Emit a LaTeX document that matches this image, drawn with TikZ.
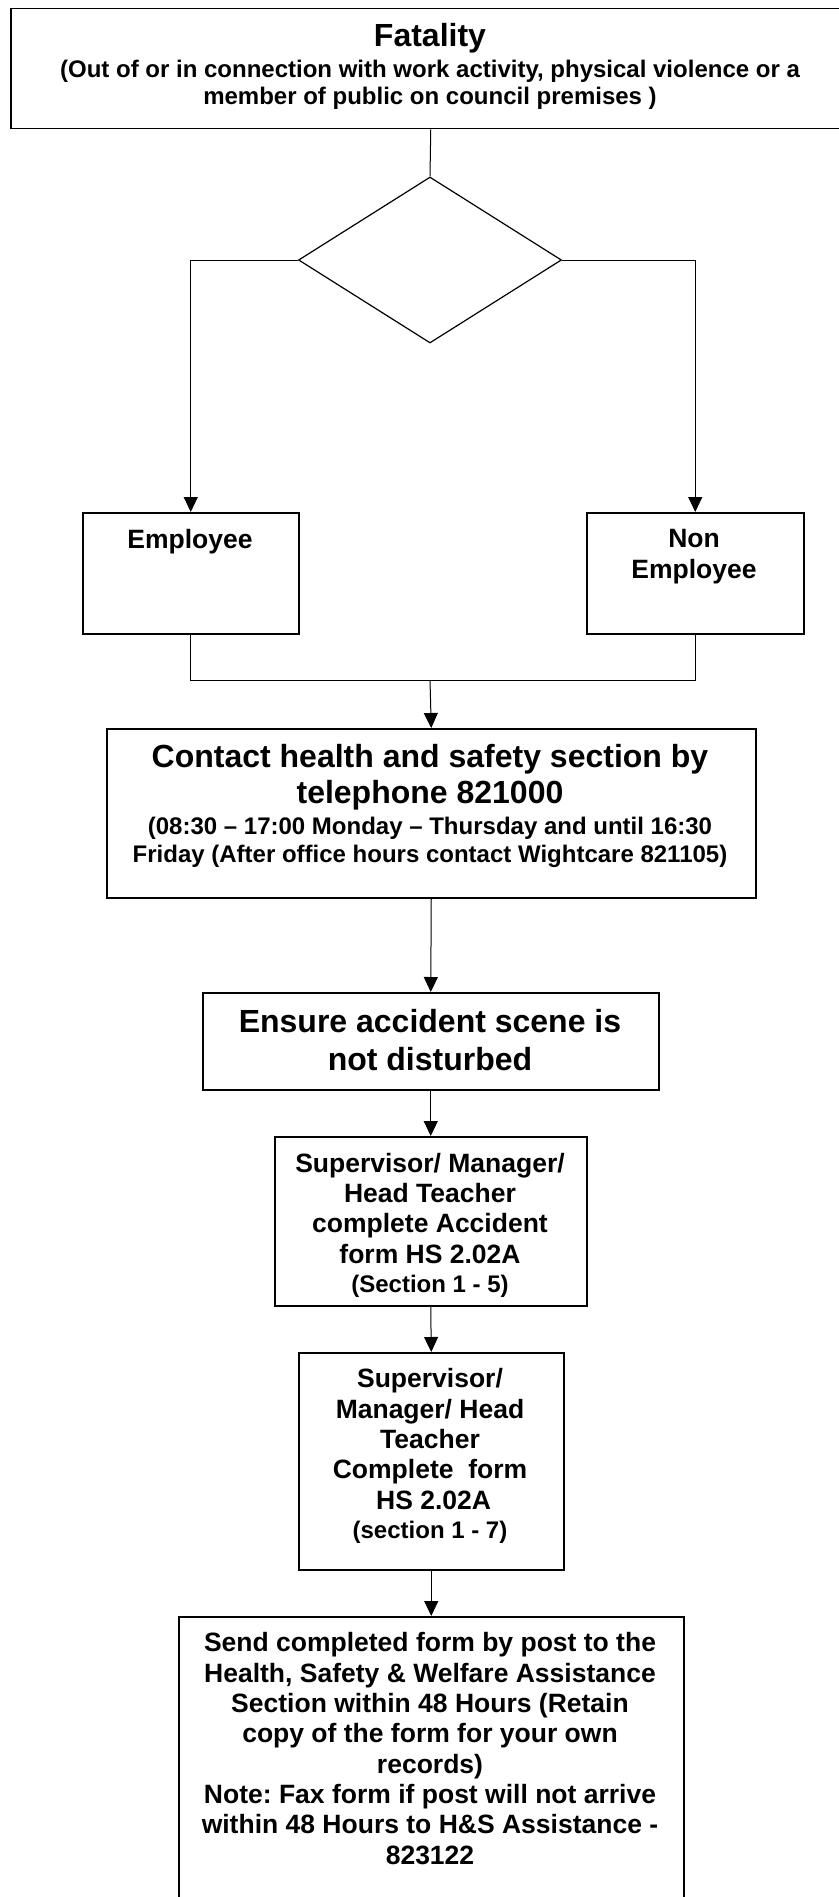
\documentclass[tikz,border=0pt]{standalone}
\usepackage{fontspec}
\setmainfont{Liberation Sans}
\usetikzlibrary{arrows.meta,shapes.geometric}
\frenchspacing

\begin{document}
\begin{tikzpicture}[x=1pt,y=-1pt,
  box/.style={draw, line width=1.5pt, rectangle, inner sep=0pt, anchor=north west},
  % text nodes are placed by the baseline of their last line
  txt/.style={anchor=base, align=center, inner sep=0pt},
  ftitle/.style={font=\bfseries\fontsize{32}{36}\selectfont},
  fbig/.style={font=\bfseries\fontsize{32}{35.5}\selectfont},
  fbigwide/.style={font=\bfseries\fontsize{32}{38}\selectfont},
  fbody/.style={font=\bfseries\fontsize{26.5}{30.3}\selectfont},
  fsmall/.style={font=\bfseries\fontsize{24}{27.3}\selectfont},
  link/.style={line width=1pt},
  flow/.style={line width=1pt, -{Triangle[length=15pt,width=14pt]}}]

  % page
  \useasboundingbox (0,0) rectangle (838,1897);
  \fill[white] (0,0) rectangle (838,1897);

  % top box
  \node[box, minimum width=840pt, minimum height=120pt] (fatal) at (10,8) {};
  \node[txt, ftitle] (fatalT) at (430,47) {Fatality};
  \node[txt, fsmall] (fatalS) at (430,105) {(Out of or in connection with work activity, physical violence or a\\member of public on council premises )};

  % decision
  \node[draw, diamond, line width=1.2pt, inner sep=0pt, minimum width=263pt, minimum height=166pt] (dec) at (430,260) {};

  % employee / non employee
  \node[box, minimum width=216pt, minimum height=121pt] (emp) at (82,512) {};
  \node[txt, fbody] (empT) at (190,548) {Employee};
  \node[box, minimum width=217pt, minimum height=121pt] (non) at (586,512) {};
  \node[txt, fbody] (nonT) at (694,578) {Non\\Employee};

  % contact
  \node[box, minimum width=649pt, minimum height=169pt] (contact) at (106,728) {};
  \node[txt, fbig] (contactT) at (430,803) {Contact health and safety section by\\telephone 821000};
  \node[txt, fsmall] (contactS) at (430,862) {(08:30 -- 17:00 Monday -- Thursday and until 16:30\\Friday (After office hours contact Wightcare 821105)};

  % scene
  \node[box, minimum width=456pt, minimum height=97pt] (scene) at (202,992) {};
  \node[txt, fbigwide] (sceneT) at (430,1070) {Ensure accident scene is\\not disturbed};

  % first form
  \node[box, minimum width=312pt, minimum height=169pt] (formA) at (274,1136) {};
  \node[txt, fbody] (formAT) at (430,1263) {Supervisor/ Manager/\\Head Teacher\\complete Accident\\form HS 2.02A};
  \node[txt, fsmall] (formAS) at (430,1292) {(Section 1 - 5)};

  % second form
  \node[box, minimum width=265pt, minimum height=217pt] (formB) at (298,1352) {};
  \node[txt, fbody] (formBT) at (430,1509) {Supervisor/\\Manager/ Head\\Teacher\\Complete \ form\\\ HS 2.02A};
  \node[txt, fsmall] (formBS) at (430,1538) {(section 1 - 7)};

  % send
  \node[box, minimum width=505pt, minimum height=320pt] (send) at (178,1616) {};
  \node[txt, fbody] (sendT) at (430,1864) {Send completed form by post to the\\Health, Safety \& Welfare Assistance\\Section within 48 Hours (Retain\\copy of the form for your own\\records)\\Note: Fax form if post will not arrive\\within 48 Hours to H\&S Assistance -\\823122};

  % connectors
  \draw[link] (fatal.south) -- (dec.north);
  \draw[flow] (dec.west) -| (emp.north);
  \draw[flow] (dec.east) -| (non.north);
  \coordinate (join) at (430,680);
  \draw[link] (emp.south) |- (join);
  \draw[link] (non.south) |- (join);
  \draw[flow] (join) -- (contact.north);
  \draw[flow] (contact.south) -- (scene.north);
  \draw[flow] (scene.south) -- (formA.north);
  \draw[flow] (formA.south) -- (formB.north);
  \draw[flow] (formB.south) -- (send.north);
\end{tikzpicture}
\end{document}
